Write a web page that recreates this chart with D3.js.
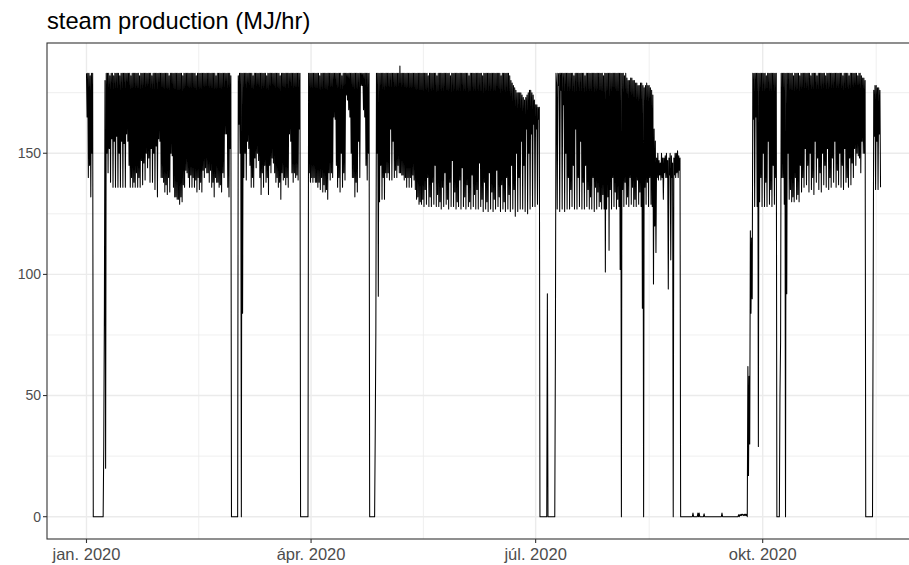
<!doctype html>
<html>
<head>
<meta charset="utf-8">
<script src="https://d3js.org/d3.v7.min.js"></script>
<style>
  body { margin: 0; background: #fff; }
  text { font-family: Arial, "Liberation Sans", sans-serif; }
</style>
</head>
<body>
<svg id="chart" width="909" height="565"></svg>
<script>
// steam production readings, one row per day from 1 Jan 2020,
// four readings per day at 00h, 06h, 12h, 18h (MJ/hr)
var jan = [
  [183,165,183,140],[183,145,182,132],[183,150,183,0],[0,0,0,0],[0,0,0,0],[0,0,0,0],[0,0,0,0],
  [29,85,180,20],[183,150,183,142],[183,152,182,138],[183,156,183,136],[182,155,183,136],[183,157,183,136],
  [183,150,182,136],[183,155,183,136],[183,154,183,136],[183,158,183,155],[183,145,183,136],[182,140,183,136],
  [183,138,183,136],[183,142,183,136],[183,140,182,136],[183,147,183,137],[183,146,183,139],[183,150,183,144],
  [183,148,183,138],[183,152,182,138],[183,150,183,135],[183,153,183,132],[183,156,183,155],[183,140,183,140]
];
var feb = [
  [183,138,183,134],[183,137,183,133],[183,140,182,134],[183,150,183,149],[183,136,183,132],[183,132,183,131],
  [183,131,183,129],[183,132,183,130],[182,137,183,136],[183,143,183,142],[183,140,183,136],[183,141,183,136],
  [183,140,183,136],[183,139,182,134],[183,140,183,135],[183,138,183,134],[183,143,183,140],[183,144,183,142],
  [183,142,183,138],[183,143,183,136],[183,138,183,132],[183,140,182,138],[183,138,183,136],[183,137,183,134],
  [183,142,183,140],[183,158,183,158],[183,136,183,132],[183,152,182,0],[0,0,0,0]
];
var mar = [
  [0,0,0,0],[0,0,182,162],[183,150,183,0],[183,84,183,140],[183,150,183,139],[183,155,183,152],
  [183,145,183,136],[183,140,182,136],[183,148,183,144],[183,150,183,147],[183,140,183,133],[183,142,183,136],
  [183,145,183,138],[182,140,183,133],[183,145,183,142],[183,148,183,146],[183,142,183,138],[183,140,183,136],
  [183,138,182,131],[183,142,183,139],[183,140,183,137],[183,140,183,136],[183,158,183,155],[183,142,183,138],
  [183,142,183,140],[183,141,183,139],[183,160,183,0],[0,0,0,0],[0,0,0,0],[0,0,0,0],[183,142,183,138]
];
var apr = [
  [183,140,183,138],[183,140,183,138],[183,138,183,136],[183,138,182,135],[183,140,183,134],[183,137,183,134],
  [183,135,183,131],[183,142,183,139],[183,142,183,140],[183,165,183,164],[183,145,183,136],[183,140,183,134],
  [183,150,182,136],[183,142,183,139],[183,174,183,172],[183,168,183,165],[183,150,183,140],[183,140,183,132],
  [183,138,183,134],[183,155,183,140],[183,178,183,178],[183,168,183,165],[183,145,183,139],[183,150,183,0],
  [0,0,0,0],[0,0,0,0],[34,76,183,150],[183,91,183,130],[183,145,183,131],[183,140,183,131]
];
var may = [
  [183,142,183,140],[183,142,183,139],[183,160,183,139],[183,155,183,140],[183,143,183,140],[183,145,183,142],
  [186,142,183,141],[183,141,183,139],[183,140,183,136],[183,140,183,136],[183,140,183,136],[183,141,183,139],
  [183,135,183,131],[183,132,183,129],[183,130,183,129],[183,131,183,128],[183,135,183,129],[183,140,182,128],
  [183,132,183,128],[183,138,183,129],[183,145,183,128],[182,133,183,128],[183,130,183,127],[183,136,183,128],
  [183,142,183,129],[183,131,183,127],[183,138,182,128],[183,147,183,128],[183,134,183,127],[183,130,183,128],
  [183,139,183,127]
];
var jun = [
  [183,144,183,128],[183,132,183,127],[183,137,183,128],[182,130,183,127],[183,141,183,128],[183,133,183,127],
  [183,135,183,127],[183,146,183,128],[183,131,182,126],[183,138,183,127],[183,130,183,126],[183,142,183,127],
  [183,134,183,126],[183,131,183,127],[183,143,183,128],[183,132,183,126],[182,137,183,127],[183,130,183,126],
  [183,140,183,127],[183,133,182,126],[180,145,179,127],[178,135,177,124],[176,150,175,126],[175,140,175,127],
  [175,155,174,127],[173,145,172,126],[173,160,174,125],[175,150,176,127],[176,158,175,128],[174,162,172,128]
];
var jul = [
  [170,160,170,129],[169,164,169,0],[0,0,0,0],[0,0,0,0],[0,0,0,92],[0,0,0,0],[0,0,0,0],[0,0,0,0],
  [67,183,178,127],[183,178,183,126],[183,176,183,127],[183,170,183,126],[183,150,183,127],[183,140,183,127],
  [183,135,183,128],[183,145,182,127],[183,160,183,127],[183,140,183,128],[183,155,183,127],[183,138,183,127],
  [182,145,183,128],[183,135,183,127],[183,132,183,127],[183,140,183,126],[183,136,183,127],[183,134,183,128],
  [183,130,183,127],[183,133,182,127],[183,101,183,127],[183,132,183,110],[183,135,183,127]
];
var aug = [
  [183,140,183,128],[183,134,183,127],[183,131,183,128],[183,102,183,0],[183,135,183,128],[182,138,183,129],
  [181,132,180,128],[180,140,181,129],[181,136,180,128],[180,131,179,128],[179,139,178,129],[178,134,179,128],
  [179,86,178,0],[177,136,178,129],[179,138,178,128],[178,140,177,129],[176,128,174,96],[160,120,155,109],
  [148,140,150,139],[147,141,146,139],[150,140,148,131],[148,142,149,140],[150,140,147,94],[148,141,150,106],
  [149,140,146,0],[148,141,150,140],[150,142,151,140],[149,143,148,0],[0,0,0,0],[0,0,0,0],[0,0,0,0]
];
var sep = [
  [0,0,0,0],[0,0,0,1.5],[0,0,0,0],[0,0,0,1.5],[0,1.5,0,0],[0,0,0,0],[0,1.2,0,0],[0,0,0,0],[0,0,0,0],
  [0,0,0,0],[0,0,0,0],[0,0,0,0],[0,0,0,0],[0,0,1.5,0],[0,0,0,0],[0,0,0,0],[0,0,0,0],[0,0,0,0],[0,0,0,0],
  [0,0,0,0],[0,0.8,0,0.8],[0.5,1,0.5,1],[0.8,0.5,1,0.5],[1,0.5,1,0],[62,17,58,30],[118,84,115,90],
  [183,164,183,128],[183,165,183,128],[183,29,183,130],[183,140,183,128]
];
var oct = [
  [183,150,183,128],[183,138,182,128],[183,155,183,129],[183,135,183,128],[183,145,183,129],[183,140,183,0],
  [0,0,0,0],[50,72,183,140],[183,140,183,129],[183,0,183,92],[183,150,183,131],[183,135,183,130],
  [183,132,182,130],[183,140,183,131],[183,133,183,130],[182,145,183,134],[183,140,183,136],[183,152,183,137],
  [183,145,183,134],[183,150,182,135],[183,140,183,133],[183,155,183,138],[182,148,183,135],[183,142,183,134],
  [183,150,183,137],[183,145,182,136],[183,152,183,135],[183,140,183,136],[183,148,183,138],[183,155,183,136],
  [183,143,183,137]
];
var nov = [
  [183,150,183,136],[183,145,182,135],[183,152,183,138],[183,140,183,136],[182,148,183,137],[183,146,183,140],
  [183,152,183,145],[183,150,182,149],[183,148,183,142],[182,155,181,150],[181,150,180,0],[0,0,0,0],
  [0,0,0,0],[0,0,0,83],[176,157,178,135],[178,155,177,135],[177,158,176,136]
];

var yTicks = [0, 50, 100, 150];
var yMinor = [25, 75, 125, 175];
var xTickDates = ["2020-01-01", "2020-04-01", "2020-07-01", "2020-10-01"];
var xTickLabels = ["jan. 2020", "ápr. 2020", "júl. 2020", "okt. 2020"];
var xMinorDates = ["2020-02-15T12:00Z", "2020-05-16T12:00Z", "2020-08-16T00:00Z", "2020-11-16T00:00Z"];

drawChart();

function drawChart() {
  var panel = {left: 47, top: 43, right: 915.7, bottom: 539};
  var svg = d3.select("#chart");

  // flatten the daily rows into a time series
  var start = Date.UTC(2020, 0, 1);
  var series = [];
  [jan, feb, mar, apr, may, jun, jul, aug, sep, oct, nov].forEach(function(month) {
    month.forEach(function(row) {
      var day = series.length / 4;
      row.forEach(function(v, k) {
        series.push({t: new Date(start + (day * 24 + k * 6) * 3600e3), v: v});
      });
    });
  });

  var xScale = d3.scaleUtc()
    .domain([new Date(Date.UTC(2019, 11, 16)), new Date(Date.UTC(2020, 11, 2))])
    .range([panel.left, panel.right]);

  var yScale = d3.scaleLinear()
    .domain([-9.2, 195.5])
    .range([panel.bottom, panel.top]);

  svg.append("rect")
    .attr("width", 909).attr("height", 565)
    .attr("fill", "#fff");

  var grid = svg.append("g");
  grid.selectAll(".ymin").data(yMinor).enter().append("line")
    .attr("x1", panel.left).attr("x2", panel.right)
    .attr("y1", d => yScale(d)).attr("y2", d => yScale(d))
    .attr("stroke", "#ebebeb").attr("stroke-width", 0.8);
  grid.selectAll(".xmin").data(xMinorDates).enter().append("line")
    .attr("x1", d => xScale(new Date(d))).attr("x2", d => xScale(new Date(d)))
    .attr("y1", panel.top).attr("y2", panel.bottom)
    .attr("stroke", "#ebebeb").attr("stroke-width", 0.8);
  grid.selectAll(".ymaj").data(yTicks).enter().append("line")
    .attr("x1", panel.left).attr("x2", panel.right)
    .attr("y1", d => yScale(d)).attr("y2", d => yScale(d))
    .attr("stroke", "#ebebeb").attr("stroke-width", 1.4);
  grid.selectAll(".xmaj").data(xTickDates).enter().append("line")
    .attr("x1", d => xScale(new Date(d))).attr("x2", d => xScale(new Date(d)))
    .attr("y1", panel.top).attr("y2", panel.bottom)
    .attr("stroke", "#ebebeb").attr("stroke-width", 1.4);

  svg.append("clipPath").attr("id", "clip")
    .append("rect")
      .attr("x", panel.left).attr("y", panel.top)
      .attr("width", panel.right - panel.left).attr("height", panel.bottom - panel.top);

  var line = d3.line()
    .x(d => xScale(d.t))
    .y(d => yScale(d.v));

  svg.append("path")
    .datum(series)
    .attr("clip-path", "url(#clip)")
    .attr("d", line)
    .attr("fill", "none")
    .attr("stroke", "#000")
    .attr("stroke-width", 1.05)
    .attr("stroke-linejoin", "round");

  svg.append("rect")
    .attr("x", panel.left).attr("y", panel.top)
    .attr("width", panel.right - panel.left).attr("height", panel.bottom - panel.top)
    .attr("fill", "none").attr("stroke", "#333").attr("stroke-width", 1.1);

  // axes
  var yAxis = svg.append("g");
  yAxis.selectAll("line").data(yTicks).enter().append("line")
    .attr("x1", panel.left - 4).attr("x2", panel.left)
    .attr("y1", d => yScale(d)).attr("y2", d => yScale(d))
    .attr("stroke", "#333").attr("stroke-width", 1.1);
  yAxis.selectAll("text").data(yTicks).enter().append("text")
    .attr("x", panel.left - 6)
    .attr("y", d => yScale(d))
    .attr("dy", "0.35em")
    .attr("text-anchor", "end")
    .attr("font-size", 14)
    .attr("fill", "#4d4d4d")
    .text(d => d);

  var xAxis = svg.append("g");
  xAxis.selectAll("line").data(xTickDates).enter().append("line")
    .attr("x1", d => xScale(new Date(d))).attr("x2", d => xScale(new Date(d)))
    .attr("y1", panel.bottom).attr("y2", panel.bottom + 4)
    .attr("stroke", "#333").attr("stroke-width", 1.1);
  xAxis.selectAll("text").data(xTickDates).enter().append("text")
    .attr("x", d => xScale(new Date(d)))
    .attr("y", 560)
    .attr("text-anchor", "middle")
    .attr("font-size", 16.5)
    .attr("fill", "#4d4d4d")
    .text((d, i) => xTickLabels[i]);

  svg.append("text")
    .attr("x", 47).attr("y", 29)
    .attr("font-size", 23.7)
    .attr("fill", "#000")
    .text("steam production (MJ/hr)");
}
</script>
</body>
</html>
